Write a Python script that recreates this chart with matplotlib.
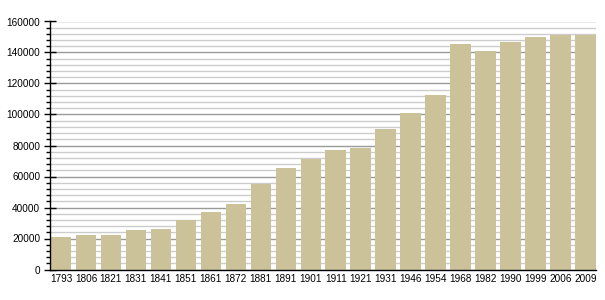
import matplotlib
matplotlib.use("Agg")
import matplotlib.pyplot as plt
from matplotlib.ticker import MultipleLocator

years = ["1793", "1806", "1821", "1831", "1841", "1851", "1861", "1872", "1881", "1891",
         "1901", "1911", "1921", "1931", "1946", "1954", "1968", "1982", "1990", "1999",
         "2006", "2009"]
population = [20760, 22026, 22397, 25352, 26184, 32253, 37074, 42573, 55453, 65428,
              71326, 76847, 78578, 90541, 100664, 112844, 145357, 140942, 146703, 149867,
              151543, 151576]

plt.rcParams['font.family'] = ['Liberation Sans', 'DejaVu Sans']

fig = plt.figure(figsize=(6.05, 3.0), dpi=100)
ax = fig.add_axes([50/605, 30.5/300, 546/605, 248/300])

x = list(range(len(years)))
ax.bar(x, population, width=0.82, color="#CCC29A", zorder=3)

ax.set_xlim(-0.44, 21.42)
ax.set_ylim(0, 160000)
ax.yaxis.set_major_locator(MultipleLocator(20000))
ax.yaxis.set_minor_locator(MultipleLocator(4000))
ax.grid(which="major", axis="y", color="#9a9a9a", linewidth=1.0, zorder=1)
ax.grid(which="minor", axis="y", color="#cccccc", linewidth=1.0, zorder=1)
ax.set_xticks(x)
ax.set_xticklabels(years)
ax.tick_params(axis="x", length=0, labelsize=7.2, pad=3)
ax.tick_params(axis="y", which="major", direction="inout", length=8, width=1, labelsize=7.2, pad=3)
ax.tick_params(axis="y", which="minor", direction="out", length=3, width=1)

for s in ["top", "right"]:
    ax.spines[s].set_visible(False)
for s in ["left", "bottom"]:
    ax.spines[s].set_color("black")
    ax.spines[s].set_linewidth(1.0)
    ax.spines[s].set_zorder(4)

fig.savefig("out.png", dpi=100)
